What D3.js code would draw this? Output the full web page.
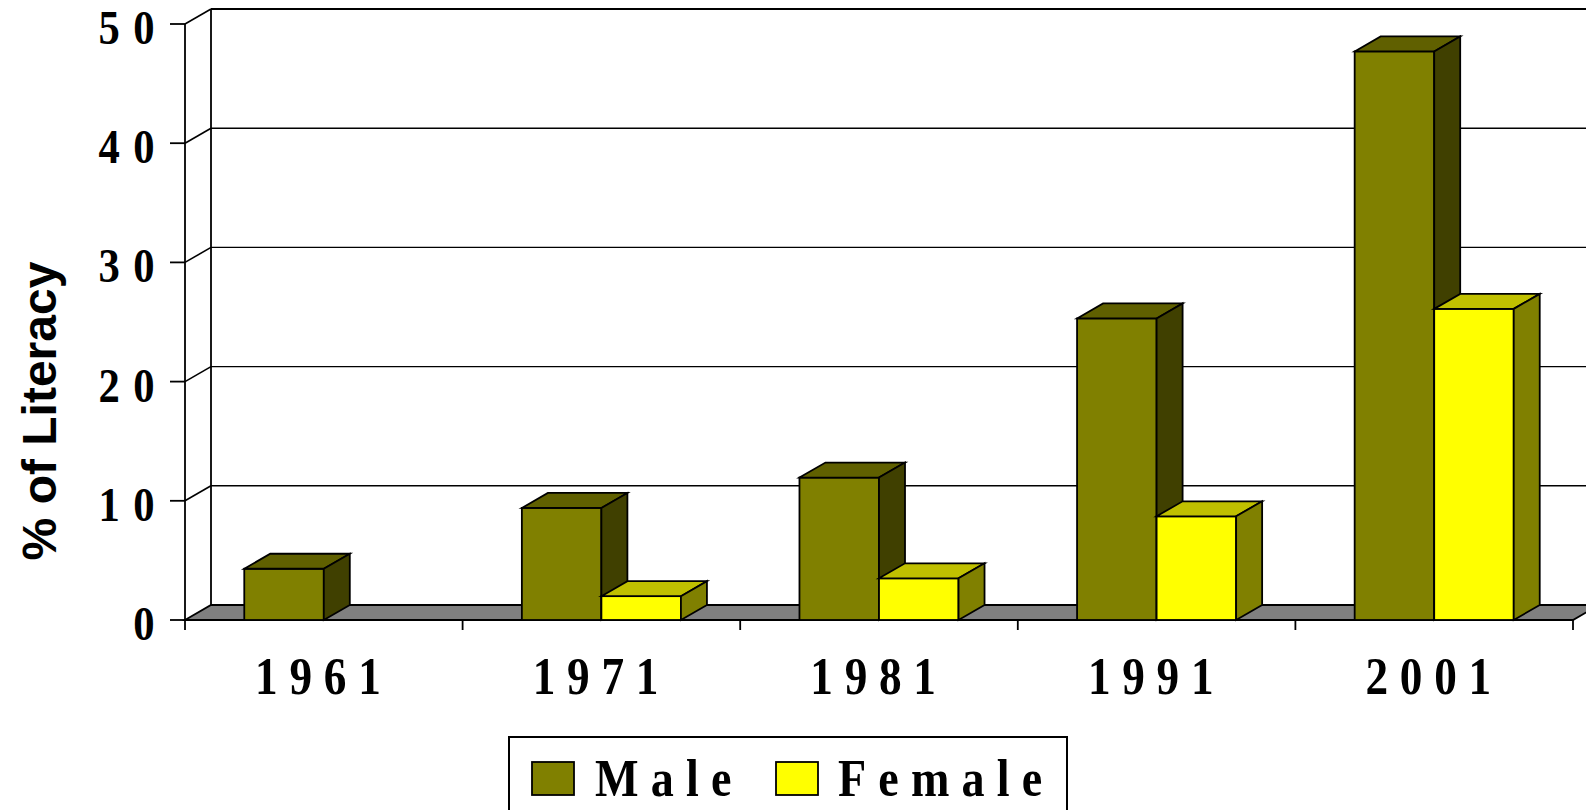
<!DOCTYPE html>
<html>
<head>
<meta charset="utf-8">
<script src="https://cdn.jsdelivr.net/npm/d3@7"></script>
<style>
  body { margin: 0; background: #fff; }
  svg { display: block; }
</style>
</head>
<body>
<script>
// chart values
var years = ["1961", "1971", "1981", "1991", "2001"];
var seriesNames = ["Male", "Female"];
var maleValues = [4.3, 9.4, 11.95, 25.3, 47.7];
var femaleValues = [null, 2.0, 3.5, 8.7, 26.1];
var yTicks = [0, 10, 20, 30, 40, 50];

var width = 1586, height = 810;
var DX = 26, DY = -15;   // depth offset of the 3d box
var SX = 0.87;           // the serif text is a bit narrow in the original

var colors = {
  Male:   { front: "#808000", top: "#606000", side: "#404000" },
  Female: { front: "#ffff00", top: "#c0c000", side: "#808000" }
};

var svg = d3.select("body").append("svg")
  .attr("width", width)
  .attr("height", height);

var x0 = d3.scaleBand()
  .domain(years)
  .range([185, 1573])
  .paddingInner(0.427)
  .paddingOuter(0.2135);

var x1 = d3.scaleBand()
  .domain(seriesNames)
  .range([0, x0.bandwidth()]);

var y = d3.scaleLinear()
  .domain([0, 50])
  .range([620, 24]);

var gWall = svg.append("g");
var gBars = svg.append("g");
var gText = svg.append("g");

// back wall gridlines + left wall diagonals
yTicks.forEach(function (t) {
  if (t === 0) return;
  gWall.append("line")
    .attr("x1", 185 + DX)
    .attr("x2", width + 5)
    .attr("y1", y(t) + DY)
    .attr("y2", y(t) + DY)
    .attr("stroke", "#000")
    .attr("stroke-width", t === 50 ? 1.8 : 1.4);
  gWall.append("line")
    .attr("x1", 185).attr("y1", y(t))
    .attr("x2", 185 + DX).attr("y2", y(t) + DY)
    .attr("stroke", "#000").attr("stroke-width", 1.6);
});

// back wall left edge
gWall.append("line")
  .attr("x1", 185 + DX).attr("x2", 185 + DX)
  .attr("y1", y(50) + DY).attr("y2", y(0) + DY)
  .attr("stroke", "#000").attr("stroke-width", 1.8);

// front value axis
gWall.append("line")
  .attr("x1", 185).attr("x2", 185)
  .attr("y1", y(50)).attr("y2", y(0))
  .attr("stroke", "#000").attr("stroke-width", 1.8);

// floor
var xl = x0.range()[0], xr = x0.range()[1];
gWall.append("polygon")
  .attr("points", [[xl, y(0)], [xl + DX, y(0) + DY], [xr + DX, y(0) + DY], [xr, y(0)]].join(" "))
  .attr("fill", "#808080")
  .attr("stroke", "#000")
  .attr("stroke-width", 1.8);

// y ticks
yTicks.forEach(function (t) {
  gWall.append("line")
    .attr("x1", 170).attr("x2", 185)
    .attr("y1", y(t)).attr("y2", y(t))
    .attr("stroke", "#000").attr("stroke-width", 1.8);
});

// category ticks at band edges
var step = x0.step();
d3.range(years.length + 1).forEach(function (i) {
  var xx = xl + i * step;
  gWall.append("line")
    .attr("x1", xx).attr("x2", xx)
    .attr("y1", y(0)).attr("y2", y(0) + 10)
    .attr("stroke", "#000").attr("stroke-width", 1.8);
});

// bars
function box(g, x, w, yTop, c) {
  var yb = y(0);
  g.append("rect")
    .attr("x", x).attr("y", yTop)
    .attr("width", w).attr("height", yb - yTop)
    .attr("fill", c.front);
  g.append("polygon")
    .attr("points", [[x, yTop], [x + DX, yTop + DY], [x + w + DX, yTop + DY], [x + w, yTop]].join(" "))
    .attr("fill", c.top);
  g.append("polygon")
    .attr("points", [[x + w, yTop], [x + w + DX, yTop + DY], [x + w + DX, yb + DY], [x + w, yb]].join(" "))
    .attr("fill", c.side);
  g.selectAll("*")
    .attr("stroke", "#000")
    .attr("stroke-width", 1.8)
    .attr("stroke-linejoin", "miter");
}

years.forEach(function (yr, i) {
  var vals = { Male: maleValues[i], Female: femaleValues[i] };
  seriesNames.forEach(function (s) {
    var v = vals[s];
    if (v == null) return;
    var g = gBars.append("g");
    box(g, x0(yr) + x1(s), x1.bandwidth(), y(v), colors[s]);
  });
});

// serif text with wide letter spacing, slightly condensed
function serif(txt, x, yy, size, ls, anchor) {
  return gText.append("text")
    .attr("transform", "translate(" + x + "," + yy + ") scale(" + SX + ",1)")
    .attr("text-anchor", anchor)
    .style("font-family", "'Liberation Serif', 'Times New Roman', serif")
    .style("font-weight", "bold")
    .style("font-size", size + "px")
    .style("letter-spacing", ls + "px")
    .text(txt);
}

yTicks.forEach(function (t) {
  serif(String(t), 168, y(t) + 20, 49, 15.5, "end");
});

years.forEach(function (yr) {
  serif(yr, x0(yr) + x0.bandwidth() / 2, 694, 52, 13.5, "middle");
});

// axis title
gText.append("text")
  .attr("transform", "translate(56,411) rotate(-90)")
  .attr("text-anchor", "middle")
  .style("font-family", "'Liberation Sans', Arial, sans-serif")
  .style("font-weight", "bold")
  .style("font-size", "48px")
  .text("% of Literacy");

// legend
var leg = svg.append("g");
leg.append("rect")
  .attr("x", 509).attr("y", 737)
  .attr("width", 558).attr("height", 90)
  .attr("fill", "#fff")
  .attr("stroke", "#000")
  .attr("stroke-width", 2);

var legendX = { Male: [532, 595], Female: [776, 838] };
seriesNames.forEach(function (s) {
  leg.append("rect")
    .attr("x", legendX[s][0]).attr("y", 762)
    .attr("width", 42).attr("height", 33)
    .attr("fill", colors[s].front)
    .attr("stroke", "#000").attr("stroke-width", 1.8);
  leg.append("text")
    .attr("transform", "translate(" + legendX[s][1] + ",796) scale(" + SX + ",1)")
    .style("font-family", "'Liberation Serif', 'Times New Roman', serif")
    .style("font-weight", "bold")
    .style("font-size", "53px")
    .style("letter-spacing", "14px")
    .text(s);
});
</script>
</body>
</html>
